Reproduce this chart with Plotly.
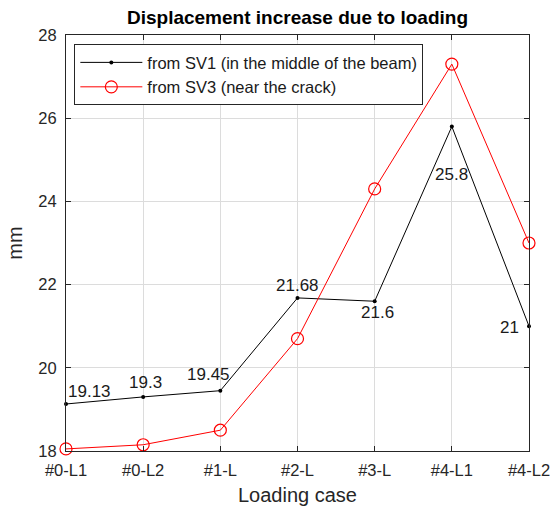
import plotly.graph_objects as go

cases = ["#0-L1", "#0-L2", "#1-L", "#2-L", "#3-L", "#4-L1", "#4-L2"]
sv1 = [19.13, 19.3, 19.45, 21.68, 21.6, 25.8, 21.0]
sv3 = [18.05, 18.15, 18.5, 20.7, 24.3, 27.3, 23.0]
sv1_labels = ["19.13", "19.3", "19.45", "21.68", "21.6", "25.8", "21"]
y_ticks = [18, 20, 22, 24, 26, 28]

FONT = "Liberation Sans, Arial, Helvetica, sans-serif"
TXT = "#262626"
xs = list(range(len(cases)))

fig = go.Figure()
fig.add_trace(go.Scatter(
    x=xs, y=sv1, mode="lines+markers",
    name="from SV1 (in the middle of the beam)",
    line=dict(color="black", width=1),
    marker=dict(color="black", size=4),
    cliponaxis=False,
))
fig.add_trace(go.Scatter(
    x=xs, y=sv3, mode="lines+markers",
    name="from SV3 (near the crack)",
    line=dict(color="red", width=1),
    marker=dict(symbol="circle-open", color="red", size=12, line=dict(width=1.2)),
    cliponaxis=False,
))

# value labels for SV1 points: (xanchor, xshift, yshift)
placement = [
    ("left", 0, 12),
    ("center", 2, 14),
    ("center", -12, 16),
    ("center", 0, 12),
    ("center", 3, -11),
    ("center", 0, -48),
    ("right", -8, -1),
]
for x, y, t, (xa, dx, dy) in zip(xs, sv1, sv1_labels, placement):
    fig.add_annotation(x=x, y=y, text=t, showarrow=False,
                       xanchor=xa, yanchor="middle", xshift=dx, yshift=dy,
                       font=dict(family=FONT, size=17, color="#1a1a1a"))

axis_common = dict(
    showline=True, linecolor=TXT, linewidth=1, mirror="ticks",
    ticks="inside", ticklen=5, tickcolor=TXT, automargin=False,
    showgrid=True, gridcolor="#dcdcdc", gridwidth=1, zeroline=False,
    tickfont=dict(family=FONT, size=16.5, color=TXT),
)

fig.update_layout(
    width=559, height=513,
    margin=dict(l=66, r=30, t=35, b=62),
    paper_bgcolor="white", plot_bgcolor="white",
    title=dict(text="<b>Displacement increase due to loading</b>",
               x=(66 + 529) / 2 / 559, xanchor="center", y=0.966, yanchor="middle",
               font=dict(family=FONT, size=19, color="black")),
    xaxis=dict(**axis_common, range=[0, 6], tickmode="array",
               tickvals=xs, ticktext=cases, ticklabelstandoff=4,
               title=dict(text="Loading case", font=dict(family=FONT, size=20, color=TXT),
                          standoff=10)),
    yaxis=dict(**axis_common, range=[18, 28], tickmode="array", tickvals=y_ticks,
               ticklabelstandoff=5,
               title=dict(text="mm", font=dict(family=FONT, size=20, color=TXT),
                          standoff=10)),
    legend=dict(x=0.018, y=0.978, xanchor="left", yanchor="top",
                bgcolor="white", bordercolor=TXT, borderwidth=1,
                font=dict(family=FONT, size=16.5, color="#1a1a1a"),
                itemwidth=62, tracegroupgap=0),
    showlegend=True,
)

fig.write_html("out.html")
